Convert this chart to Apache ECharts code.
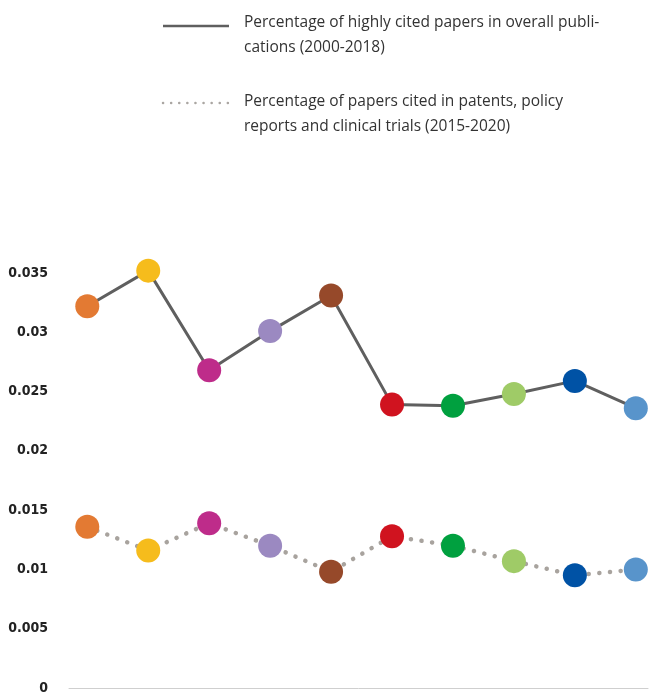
<!DOCTYPE html>
<html>
<head>
<meta charset="utf-8">
<script src="https://cdn.jsdelivr.net/npm/echarts@6/dist/echarts.min.js"></script>
<style>
  html, body { margin: 0; padding: 0; background: #fff; }
  #chart { width: 649px; height: 695px; }
</style>
</head>
<body>
<div id="chart"></div>
<script>
// one entry per point, no x labels in the original
var categories = [0, 1, 2, 3, 4, 5, 6, 7, 8, 9];
var highlyCited = [0.0322, 0.0352, 0.0268, 0.0301, 0.0331, 0.0239, 0.0238, 0.0248, 0.0259, 0.0236];
var citedInPatents = [0.0136, 0.0116, 0.0139, 0.0120, 0.0098, 0.0128, 0.0120, 0.0107, 0.0095, 0.0100];
var pointColors = ['#E37A33', '#F6BC1C', '#BE2C8A', '#9B89C1', '#96492A',
                   '#D0131F', '#00A03F', '#9FCB67', '#0052A5', '#5894CB'];
var yTicks = [0, 0.005, 0.01, 0.015, 0.02, 0.025, 0.03, 0.035];
var legendNames = [
    'Percentage of highly cited papers in overall publi-\ncations (2000-2018)',
    'Percentage of papers cited in patents, policy\nreports and clinical trials (2015-2020)'
];

function toPoints(values) {
    return values.map(function (v, i) {
        return { value: [categories[i], v], itemStyle: { color: pointColors[i] } };
    });
}

var legendFont = '15.5px "Open Sans"';

var chart = echarts.init(document.getElementById('chart'));
chart.setOption({
    animation: false,
    grid: { left: 69, right: 1, top: 273, bottom: 2 },
    xAxis: {
        type: 'value',
        min: -0.3,
        max: 9.2,
        axisLine: { show: true, lineStyle: { color: '#cfcfcf', width: 1 } },
        axisTick: { show: false },
        axisLabel: { show: false },
        splitLine: { show: false }
    },
    yAxis: {
        type: 'value',
        min: yTicks[0],
        max: yTicks[yTicks.length - 1],
        interval: 0.005,
        axisLine: { show: false },
        axisTick: { show: false },
        splitLine: { show: false },
        axisLabel: {
            margin: 21,
            color: '#222',
            fontFamily: '"DejaVu Sans Condensed"',
            fontWeight: 'bold',
            fontSize: 14,
            formatter: function (v) { return String(+v.toFixed(3)); }
        }
    },
    graphic: [
        { type: 'line', shape: { x1: 163, y1: 26, x2: 229, y2: 26 },
          style: { stroke: '#5f5f5f', lineWidth: 2.5 } },
        { type: 'text', left: 244, top: 10,
          style: { text: legendNames[0], font: legendFont, fill: '#333', lineHeight: 25 } },
        { type: 'line', shape: { x1: 163, y1: 103, x2: 229, y2: 103 },
          style: { stroke: '#aaa6a2', lineWidth: 2.5, lineDash: [0.1, 8], lineCap: 'round' } },
        { type: 'text', left: 244, top: 89,
          style: { text: legendNames[1], font: legendFont, fill: '#333', lineHeight: 25 } }
    ],
    series: [
        {
            type: 'line',
            data: toPoints(highlyCited),
            symbol: 'circle',
            symbolSize: 24,
            clip: false,
            lineStyle: { color: '#5f5f5f', width: 3 },
            z: 3
        },
        {
            type: 'line',
            data: toPoints(citedInPatents),
            symbol: 'circle',
            symbolSize: 24,
            clip: false,
            lineStyle: { color: '#a8a39e', width: 4.5, type: [0.1, 10.6], cap: 'round' },
            z: 2
        }
    ]
});
</script>
</body>
</html>
